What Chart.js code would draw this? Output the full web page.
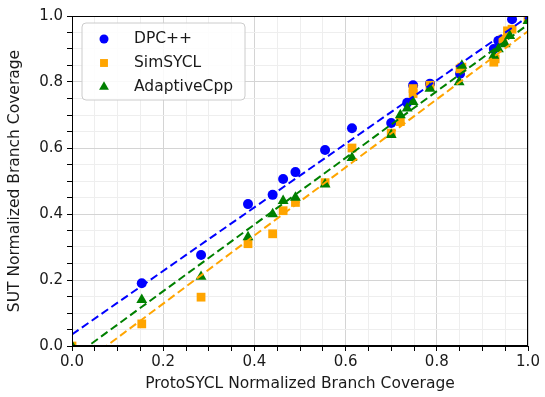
<!DOCTYPE html>
<html>
<head>
<meta charset="utf-8">
<script src="https://cdn.jsdelivr.net/npm/chart.js@4/dist/chart.umd.min.js"></script>
<style>
  html, body { margin: 0; padding: 0; background: #ffffff; }
  #wrap { width: 545px; height: 397px; }
</style>
</head>
<body>
<div id="wrap"><canvas id="c" width="545" height="397"></canvas></div>
<script>
// ---- data ----
const seriesNames = ['DPC++', 'SimSYCL', 'AdaptiveCpp'];
const seriesColors = ['#0000ff', '#ffa500', '#008000'];

const dpcX  = [0.153, 0.283, 0.386, 0.44, 0.463, 0.49, 0.555, 0.614, 0.70, 0.735, 0.748, 0.785, 0.851, 0.925, 0.935, 0.965];
const dpcY  = [0.19, 0.276, 0.43, 0.458, 0.506, 0.527, 0.594, 0.66, 0.676, 0.737, 0.79, 0.795, 0.825, 0.90, 0.925, 0.99];

const simX  = [0.0, 0.153, 0.283, 0.386, 0.44, 0.463, 0.49, 0.555, 0.614, 0.70, 0.72, 0.748, 0.748, 0.785, 0.851, 0.855, 0.925, 0.928, 0.945, 0.955, 0.965, 1.0];
const simY  = [0.0, 0.067, 0.148, 0.31, 0.34, 0.41, 0.435, 0.495, 0.60, 0.645, 0.68, 0.78, 0.765, 0.79, 0.84, 0.845, 0.86, 0.87, 0.93, 0.955, 0.96, 0.99];

const acppX = [0.0, 0.153, 0.283, 0.386, 0.44, 0.463, 0.49, 0.555, 0.614, 0.70, 0.72, 0.735, 0.748, 0.785, 0.849, 0.855, 0.925, 0.935, 0.95, 0.96, 1.0];
const acppY = [0.0, 0.14, 0.21, 0.33, 0.40, 0.44, 0.45, 0.49, 0.57, 0.64, 0.70, 0.72, 0.74, 0.78, 0.80, 0.85, 0.88, 0.90, 0.915, 0.94, 0.985];

// linear fits (dashed lines): y = slope * x + intercept
const fitSlopes     = [0.963, 1.032, 1.01];
const fitIntercepts = [0.035, -0.078, -0.036];

const majorTicks = [0.0, 0.2, 0.4, 0.6, 0.8, 1.0];
const minorStep = 0.05;

const xTitle = 'ProtoSYCL Normalized Branch Coverage';
const yTitle = 'SUT Normalized Branch Coverage';

// ---- build chart ----
const pointStyles = ['circle', 'rect', 'triangle'];
const pointRadii = [5, 6.2, 6.3];
const seriesX = [dpcX, simX, acppX];
const seriesY = [dpcY, simY, acppY];

const toPts = (xs, ys) => xs.map((x, i) => ({ x: x, y: ys[i] }));
const isMajor = v => majorTicks.some(t => Math.abs(t - v) < 1e-6);

const datasets = [];
seriesNames.forEach((name, i) => {
  datasets.push({
    type: 'scatter',
    label: name,
    data: toPts(seriesX[i], seriesY[i]),
    pointStyle: pointStyles[i],
    pointRadius: pointRadii[i],
    pointHoverRadius: pointRadii[i],
    backgroundColor: seriesColors[i],
    borderColor: seriesColors[i],
    borderWidth: 0,
    order: 10 - i
  });
});
seriesNames.forEach((name, i) => {
  datasets.push({
    type: 'line',
    label: name + ' fit',
    data: [{ x: 0, y: fitIntercepts[i] }, { x: 1, y: fitIntercepts[i] + fitSlopes[i] }],
    borderColor: seriesColors[i],
    borderWidth: 2,
    borderDash: [8, 4],
    pointRadius: 0,
    fill: false,
    clip: 0,
    order: 3 - i
  });
});

const font = { family: 'DejaVu Sans', size: 15.5 };
const tickFont = { family: 'DejaVu Sans', size: 15 };
const textColor = '#1a1a1a';

function axisOpts(titleText, isY) {
  return {
    type: 'linear',
    min: 0,
    max: 1,
    afterBuildTicks: scale => {
      const t = [];
      for (let k = 0; k <= Math.round(1 / minorStep); k++) t.push({ value: +(k * minorStep).toFixed(4) });
      scale.ticks = t;
    },
    ticks: {
      autoSkip: false,
      maxRotation: 0,
      color: textColor,
      font: tickFont,
      padding: isY ? 4 : 2,
      callback: v => isMajor(v) ? v.toFixed(1) : ''
    },
    grid: {
      color: ctx => (ctx.tick && isMajor(ctx.tick.value)) ? '#d4d4d4' : '#eeeeee',
      borderDash: ctx => (ctx.tick && isMajor(ctx.tick.value)) ? [] : [3, 2],
      lineWidth: 1,
      tickColor: '#000',
      tickBorderDash: [],
      tickLength: 5,
      tickWidth: 1
    },
    border: { color: '#000', width: 1 },
    title: {
      display: true,
      text: titleText,
      color: textColor,
      font: font,
      padding: isY ? { top: 6, bottom: 0 } : { top: 0, bottom: 4 }
    },
    afterFit: scale => {
      if (isY) scale.width = 72; else scale.height = 51;
    }
  };
}

const framePlugin = {
  id: 'frame',
  afterDatasetsDraw(chart) {
    const a = chart.chartArea, ctx = chart.ctx;
    ctx.save();
    ctx.strokeStyle = '#000';
    ctx.lineWidth = 1;
    ctx.strokeRect(Math.round(a.left) + 0.5, Math.round(a.top) + 0.5, Math.round(a.right - a.left) - 1, Math.round(a.bottom - a.top) - 1);
    ctx.restore();
  }
};

const legendPlugin = {
  id: 'innerLegend',
  afterDatasetsDraw(chart) {
    const a = chart.chartArea, ctx = chart.ctx;
    const bx = a.left + 10, by = a.top + 7, bw = 163, bh = 77, r = 4;
    ctx.save();
    ctx.beginPath();
    ctx.moveTo(bx + r, by);
    ctx.lineTo(bx + bw - r, by);
    ctx.arcTo(bx + bw, by, bx + bw, by + r, r);
    ctx.lineTo(bx + bw, by + bh - r);
    ctx.arcTo(bx + bw, by + bh, bx + bw - r, by + bh, r);
    ctx.lineTo(bx + r, by + bh);
    ctx.arcTo(bx, by + bh, bx, by + bh - r, r);
    ctx.lineTo(bx, by + r);
    ctx.arcTo(bx, by, bx + r, by, r);
    ctx.closePath();
    ctx.fillStyle = 'rgba(255,255,255,0.85)';
    ctx.fill();
    ctx.strokeStyle = '#cccccc';
    ctx.lineWidth = 1;
    ctx.stroke();
    ctx.font = '15.5px "DejaVu Sans"';
    ctx.textBaseline = 'middle';
    ctx.textAlign = 'left';
    seriesNames.forEach((name, i) => {
      const cy = by + 16 + i * 24;
      ctx.fillStyle = seriesColors[i];
      ctx.strokeStyle = seriesColors[i];
      Chart.helpers.drawPoint(ctx, { pointStyle: pointStyles[i], radius: pointRadii[i] * 0.9, borderWidth: 0, rotation: 0 }, bx + 22, cy);
      ctx.fillStyle = textColor;
      ctx.fillText(name, bx + 52, cy);
    });
    ctx.restore();
  }
};

new Chart(document.getElementById('c'), {
  data: { datasets: datasets },
  options: {
    responsive: false,
    animation: false,
    devicePixelRatio: 1,
    layout: { padding: { top: 16, right: 17, left: 0, bottom: 0 } },
    plugins: {
      legend: { display: false },
      tooltip: { enabled: false }
    },
    scales: {
      x: axisOpts(xTitle, false),
      y: axisOpts(yTitle, true)
    }
  },
  plugins: [framePlugin, legendPlugin]
});
</script>
</body>
</html>
